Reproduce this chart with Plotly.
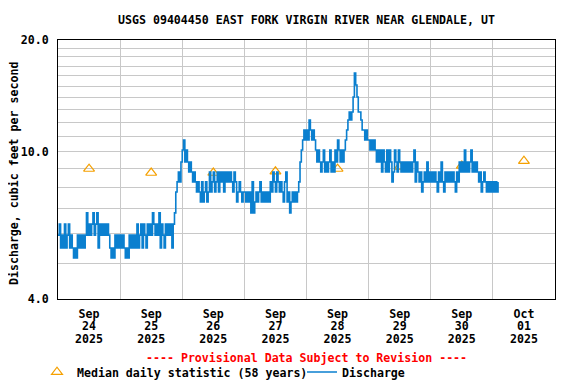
import math
import pandas as pd
import plotly.graph_objects as go

# ---- data -------------------------------------------------------------
# discharge levels (cfs) seen in the record, coded by letter
LEVELS = {
    "a": 5.16, "b": 5.49, "c": 5.95, "d": 6.37, "e": 6.83, "f": 7.31,
    "g": 7.78, "h": 8.28, "i": 8.81, "j": 9.37, "k": 10.1, "l": 10.74,
    "m": 11.43, "n": 12.17, "o": 12.79, "p": 14.03, "q": 15.12, "r": 16.29,
}
# 30-minute readings, one string per day (Sep 24 .. Oct 1)
DAY_CODES = [
    "cdbcbdbcdb" "cbabacbcbc" "bcecdcdecd" "ebdcdcdcdc" "babacbcb",   # Sep 24
    "cbcbabacbc" "bcbdbcdbdc" "bdcdcedcdc" "ebdcbdcdcd" "bdeghihj",   # Sep 25
    "kljkjijihi" "hghgfhfghf" "gighighigi" "higihihihg" "ihfghgfg",   # Sep 26
    "gfgfgehefg" "fghfgfgfgf" "hgihgihghg" "fhifgefgfg" "fghjklml",   # Sep 27
    "mlnmlmlkjk" "jijkijijki" "jikjlkjkjk" "lmnonoprqp" "oonmmlml",   # Sep 28
    "lklklkjkjk" "ikjikikjhi" "kjikjijiji" "jijijkhjih" "ighihjhi",   # Sep 29
    "hihihgihjh" "gihihihihg" "ihjijikiji" "jkijijihig" "hihghghg",   # Sep 30
    "hghgh",                                                          # Oct 1
]
START = "2025-09-24 00:00"
codes = "".join(DAY_CODES)
times = pd.date_range(START, periods=len(codes), freq="30min")
discharge = [LEVELS[c] for c in codes]

median_dates = ["2025-09-24 12:00", "2025-09-25 12:00", "2025-09-26 12:00",
                "2025-09-27 12:00", "2025-09-28 12:00", "2025-09-29 12:00",
                "2025-09-30 12:00", "2025-10-01 12:00"]
median_values = [8.98, 8.76, 8.76, 8.83, 8.98, 9.10, 9.15, 9.43]

y_tick_vals = list(range(4, 21))
y_tick_text = [("%.1f" % v) if v in (4, 10, 20) else "" for v in y_tick_vals]
x_range = ["2025-09-24 00:00", "2025-10-02 00:00"]

TITLE = "USGS 09404450 EAST FORK VIRGIN RIVER NEAR GLENDALE, UT"
Y_TITLE = "Discharge, cubic feet per second"
FONT = "DejaVu Sans Mono"
FS = 11.6
GRID = "#c8c8c8"
W, H = 568, 376   # page body adds an 8 px margin around the figure
PLOT_W, PLOT_H = 497, 259

# ---- figure -----------------------------------------------------------
fig = go.Figure()
fig.add_trace(go.Scatter(
    x=median_dates, y=median_values, mode="markers",
    name="Median daily statistic (58 years)", legend="legend",
    marker=dict(symbol="triangle-up-open", size=9.5, color="#f5a000",
                line=dict(width=1.2, color="#f5a000")),
))
fig.add_trace(go.Scatter(
    x=times, y=discharge, mode="lines", name="Discharge", legend="legend2",
    line=dict(color="#0a7fcf", width=1.6, shape="hv"),
))
# empty helper traces so the extra label axes render
fig.add_trace(go.Scatter(x=[], y=[], xaxis="x2", showlegend=False, hoverinfo="skip"))
fig.add_trace(go.Scatter(x=[], y=[], xaxis="x3", showlegend=False, hoverinfo="skip"))

bold = dict(family=FONT, size=FS, color="black", weight="bold")
common_x = dict(type="date", range=x_range, dtick=86400000, tick0=x_range[0],
                ticklabelmode="period", ticks="", zeroline=False, tickfont=bold)
legend_common = dict(orientation="h", xref="container", yref="container",
                     xanchor="left", y=1 - 364 / H, yanchor="middle",
                     bgcolor="rgba(0,0,0,0)", borderwidth=0,
                     font=bold, itemclick=False)

fig.update_layout(
    width=W, height=H,
    margin=dict(l=50, r=21, t=32, b=85, autoexpand=False),
    paper_bgcolor="white", plot_bgcolor="white",
    font=bold,
    title=dict(text=TITLE, x=0.5, xref="paper", xanchor="center",
               y=1 - 12 / H, yref="container", yanchor="middle", font=bold),
    xaxis=dict(**common_x, tickformat="%b", showgrid=True, gridcolor=GRID,
               gridwidth=1, showline=True, mirror=True, linecolor="black",
               linewidth=1, ticklabelstandoff=4),
    xaxis2=dict(**common_x, tickformat="%d", overlaying="x", anchor="y",
                side="bottom", showgrid=False, showline=False,
                ticklabelstandoff=18),
    xaxis3=dict(**common_x, tickformat="%Y", overlaying="x", anchor="y",
                side="bottom", showgrid=False, showline=False,
                ticklabelstandoff=31),
    yaxis=dict(type="log", range=[math.log10(4), math.log10(20)],
               tickvals=y_tick_vals, ticktext=y_tick_text, ticks="",
               showgrid=True, gridcolor=GRID, gridwidth=1,
               showline=True, mirror=True, linecolor="black", linewidth=1,
               zeroline=False, ticklabelstandoff=6),
    showlegend=True,
    legend=dict(**legend_common, x=29 / W),
    legend2=dict(**legend_common, x=294 / W),
    annotations=[
        dict(text=Y_TITLE, textangle=-90, x=-44.5 / PLOT_W, xref="paper",
             xanchor="center", y=125.5 / PLOT_H, yref="paper",
             yanchor="middle", showarrow=False, font=bold),
        dict(text="---- Provisional Data Subject to Revision ----",
             x=0.5, xref="paper", xanchor="center",
             y=-59 / PLOT_H, yref="paper", yanchor="middle",
             showarrow=False,
             font=dict(family=FONT, size=FS, color="red", weight="bold")),
    ],
)

fig.write_html("out.html")
